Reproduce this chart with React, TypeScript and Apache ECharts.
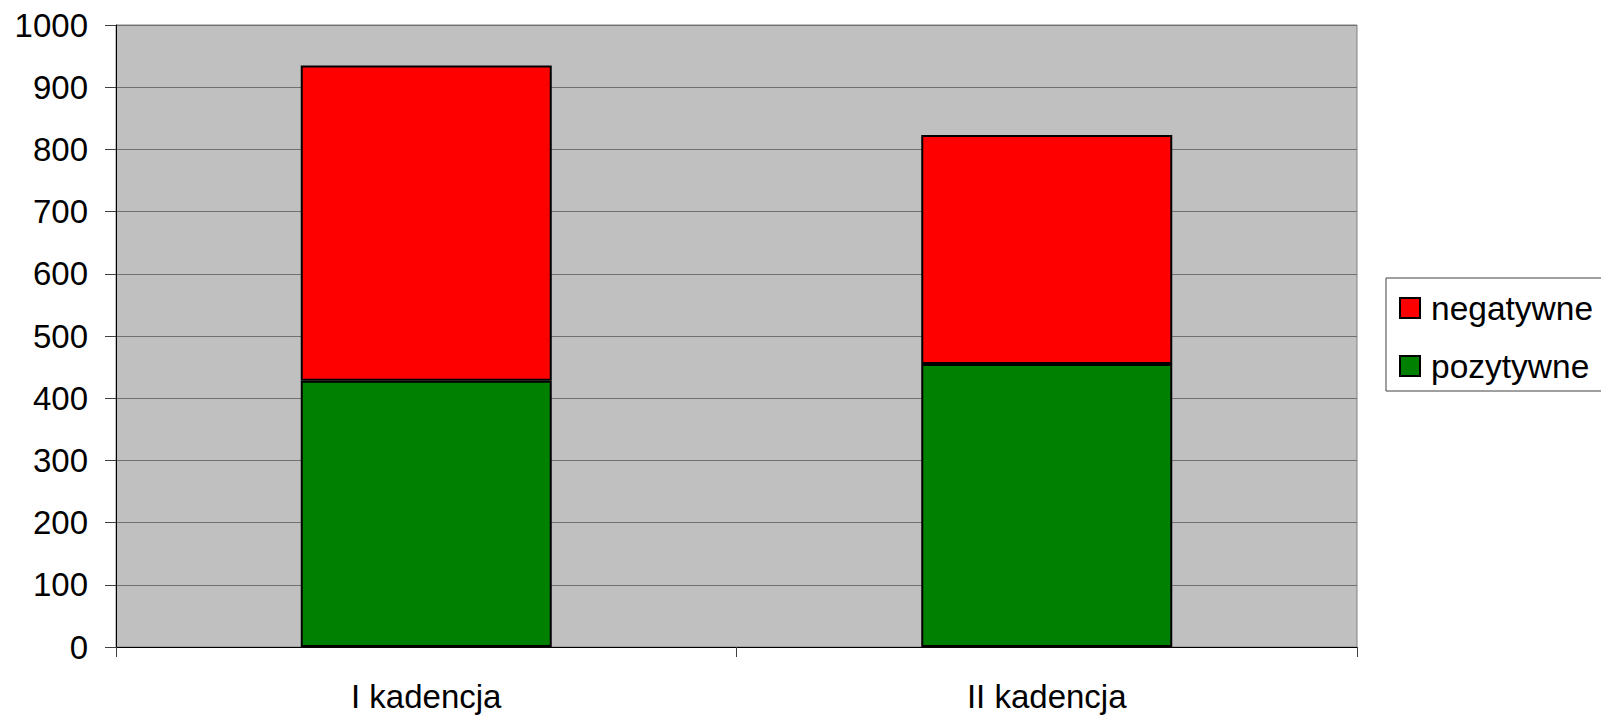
import React, { useEffect, useRef } from "react";
import * as echarts from "echarts";

const categories = ["I kadencja", "II kadencja"];
const pozytywne = [428, 455];
const negatywne = [507, 368];
const yTicks = [0, 100, 200, 300, 400, 500, 600, 700, 800, 900, 1000];

export default function App() {
  const ref = useRef<HTMLDivElement>(null);
  useEffect(() => {
    document.body.style.margin = "0";
    const chart = echarts.init(ref.current!, undefined, { renderer: "svg" });
    const font = "Liberation Sans, Arial, sans-serif";
    chart.setOption({
      animation: false,
      backgroundColor: "#ffffff",
      textStyle: { fontFamily: font },
      grid: {
        left: 116,
        right: 244,
        top: 25,
        bottom: 70,
        show: true,
        backgroundColor: "#c0c0c0",
        borderColor: "#808080",
        borderWidth: 1,
      },
      legend: {
        orient: "vertical",
        left: 1386,
        top: 278,
        data: ["negatywne", "pozytywne"],
        backgroundColor: "#ffffff",
        borderColor: "#404040",
        borderWidth: 1,
        padding: [13, 30, 8, 13],
        itemGap: 24,
        itemWidth: 20,
        itemHeight: 20,
        icon: "rect",
        textStyle: { fontSize: 33.5, color: "#000", fontFamily: font, padding: [0, 0, 0, 6] },
      },
      xAxis: {
        type: "category",
        data: categories,
        axisLine: { lineStyle: { color: "#000", width: 1 } },
        axisTick: { show: true, length: 10, lineStyle: { color: "#404040" } },
        axisLabel: { fontSize: 33, color: "#000", margin: 33, fontFamily: font },
      },
      yAxis: {
        type: "value",
        min: yTicks[0],
        max: yTicks[yTicks.length - 1],
        interval: 100,
        axisLine: { show: true, lineStyle: { color: "#000", width: 1 } },
        axisTick: { show: true, length: 11, lineStyle: { color: "#404040" } },
        axisLabel: {
          fontSize: 33,
          color: "#000",
          margin: 28,
          fontFamily: font,
          formatter: (v: number) => String(v),
        },
        splitLine: { show: true, lineStyle: { color: "#707070", width: 1 } },
      },
      series: [
        {
          name: "pozytywne",
          type: "bar",
          stack: "a",
          data: pozytywne,
          barWidth: 251,
          itemStyle: { color: "#008000", borderColor: "#000", borderWidth: 2 },
        },
        {
          name: "negatywne",
          type: "bar",
          stack: "a",
          data: negatywne,
          barWidth: 251,
          itemStyle: { color: "#ff0000", borderColor: "#000", borderWidth: 2 },
        },
      ],
    });
    return () => chart.dispose();
  }, []);
  return <div ref={ref} style={{ width: 1601, height: 717 }} />;
}
